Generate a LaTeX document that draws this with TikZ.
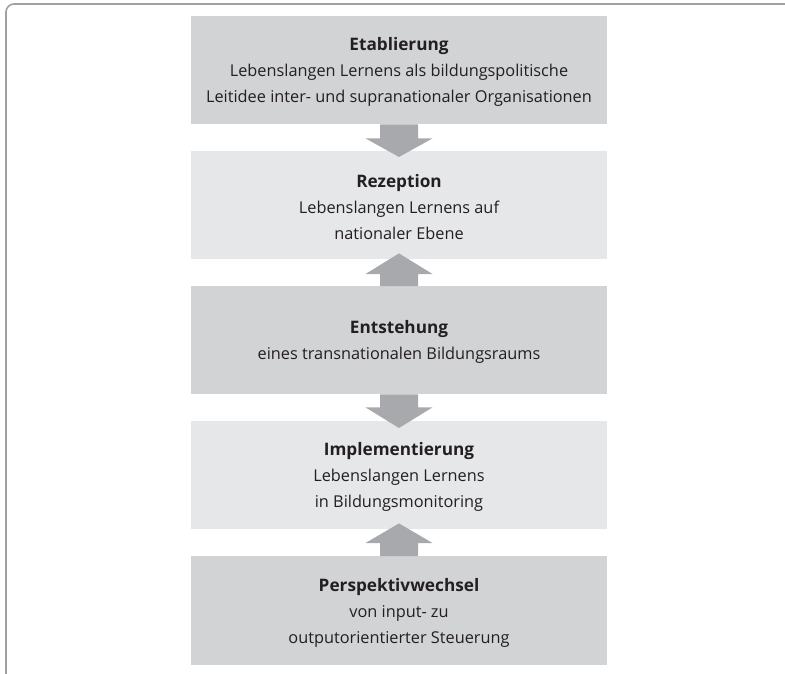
\documentclass[tikz,border=0pt]{standalone}
\usepackage{fontspec}
\setmainfont{Open Sans}
\usetikzlibrary{calc}
\definecolor{boxdark}{HTML}{D1D3D4}
\definecolor{boxlight}{HTML}{E6E7E8}
\definecolor{arrowc}{HTML}{A7A9AC}
\definecolor{framec}{HTML}{A0A0A0}
\definecolor{txt}{HTML}{231F20}
\newcommand{\stagetitle}[1]{\rule{0pt}{17.5pt}{\bfseries\fontsize{17.2pt}{26pt}\selectfont #1}}
\tikzset{
  stage/.style={minimum width=416pt, minimum height=108pt, inner sep=0pt, align=center,
    text=txt, font=\fontsize{16.3pt}{26pt}\selectfont, anchor=north},
  darkbox/.style={stage, fill=boxdark},
  lightbox/.style={stage, fill=boxlight},
  arr/.style={fill=arrowc}
}
\begin{document}
\begin{tikzpicture}[x=1pt,y=1pt]
\useasboundingbox (0,0) rectangle (785,-674);
\draw[framec, line width=1.6pt] (785,-4) -- (14,-4) arc[start angle=90, end angle=180, radius=8] -- (6,-674);
\node[darkbox] (b1) at (399,-16) {\stagetitle{Etablierung}\\Lebenslangen Lernens als bildungspolitische\\Leitidee inter- und supranationaler Organisationen};
\node[lightbox] (b2) at (399,-151) {\stagetitle{Rezeption}\\Lebenslangen Lernens auf\\nationaler Ebene};
\node[darkbox] (b3) at (399,-286) {\stagetitle{Entstehung}\\eines transnationalen Bildungsraums};
\node[lightbox] (b4) at (399,-421) {\stagetitle{Implementierung}\\Lebenslangen Lernens\\in Bildungsmonitoring};
\node[darkbox, minimum height=109pt] (b5) at (399,-556) {\stagetitle{Perspektivwechsel}\\von input- zu\\outputorientierter Steuerung};
% down arrow b1 -> b2
\fill[arr] ($(b1.south)+(-19,0)$) -- ++(0,-14) -- ++(-14.5,0) -- ($(b2.north)+(0,-6)$)
  -- ($(b1.south)+(33.5,-14)$) -- ++(-14.5,0) -- ($(b1.south)+(19,0)$) -- cycle;
% up arrow b3 -> b2
\fill[arr] ($(b3.north)+(-19,0)$) -- ++(0,12) -- ++(-14.5,0) -- ($(b2.south)+(0,6)$)
  -- ($(b3.north)+(33.5,12)$) -- ++(-14.5,0) -- ($(b3.north)+(19,0)$) -- cycle;
% down arrow b3 -> b4
\fill[arr] ($(b3.south)+(-19,0)$) -- ++(0,-13) -- ++(-14.5,0) -- ($(b4.north)+(0,-7)$)
  -- ($(b3.south)+(33.5,-13)$) -- ++(-14.5,0) -- ($(b3.south)+(19,0)$) -- cycle;
% up arrow b5 -> b4
\fill[arr] ($(b5.north)+(-19,0)$) -- ++(0,13) -- ++(-14.5,0) -- ($(b4.south)+(0,6)$)
  -- ($(b5.north)+(33.5,13)$) -- ++(-14.5,0) -- ($(b5.north)+(19,0)$) -- cycle;
\end{tikzpicture}
\end{document}
